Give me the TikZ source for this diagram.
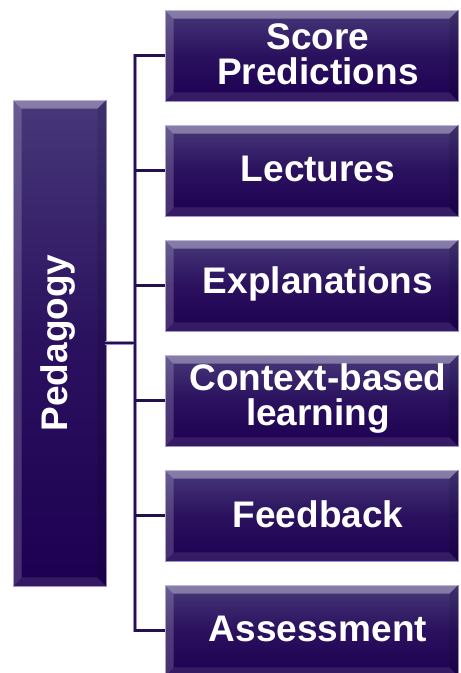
\documentclass[tikz,border=0pt]{standalone}
\usepackage{fontspec}
\setmainfont{Liberation Sans}
\definecolor{boxtop}{HTML}{47387A}
\definecolor{boxbot}{HTML}{1E0052}
\definecolor{linedark}{HTML}{24104F}
\definecolor{linelight}{HTML}{9A8CC8}
\definecolor{edgelight}{HTML}{9C90CC}
\begin{document}
\begin{tikzpicture}[x=1pt,y=-1pt,
  bevbox/.style={rectangle, inner sep=0pt, draw=edgelight, line width=0.6pt,
    top color=boxtop, bottom color=boxbot, middle color=boxbot!70!boxtop},
  boxtext/.style={text=white, font=\bfseries\fontsize{37}{35}\selectfont, align=center, inner sep=0pt},
  conn/.style={line width=3.6pt, draw=linelight},
  conninner/.style={line width=2.2pt, draw=linedark}
]
\useasboundingbox (0,0) rectangle (461,673);
% left box
\node[bevbox, minimum width=93pt, minimum height=486pt] (ped) at (59.5,343) {};
% right boxes
\foreach \i in {0,...,5}{
  \node[bevbox, minimum width=293pt, minimum height=91pt] (b\i) at (311.5,55.5+115*\i) {};
}
% bevel highlights
\foreach \n in {ped,b0,b1,b2,b3,b4,b5}{
  \fill[white, opacity=0.35] (\n.north west) -- (\n.north east) -- ([xshift=-9pt,yshift=-9pt]\n.north east) -- ([xshift=9pt,yshift=-9pt]\n.north west) -- cycle;
  \fill[white, opacity=0.18] (\n.north west) -- ([xshift=9pt,yshift=-9pt]\n.north west) -- ([xshift=9pt,yshift=9pt]\n.south west) -- (\n.south west) -- cycle;
  \fill[black, opacity=0.12] (\n.north east) -- (\n.south east) -- ([xshift=-9pt,yshift=9pt]\n.south east) -- ([xshift=-9pt,yshift=-9pt]\n.north east) -- cycle;
  \fill[white, opacity=0.10] (\n.south west) -- (\n.south east) -- ([xshift=-9pt,yshift=9pt]\n.south east) -- ([xshift=9pt,yshift=9pt]\n.south west) -- cycle;
}
% texts
\node[boxtext, rotate=90] (pedtext) at ([xshift=-1.5pt]ped.center) {Pedagogy};
\foreach \i/\t in {0/{Score\\Predictions},1/{Lectures},2/{Explanations},3/{Context-based\\learning},4/{Feedback},5/{Assessment}}{
  \node[boxtext] (t\i) at ([xshift=6.5pt,yshift=1.5pt]b\i.center) {\t};
}
% connectors
\coordinate (bus) at (135,343);
\foreach \s in {conn,conninner}{
  \draw[\s, line cap=rect] (ped.east) -- (bus);
  \draw[\s, line cap=rect] (bus |- b0.west) -- (bus |- b5.west);
  \foreach \i in {0,...,5}{
    \draw[\s] (bus |- b\i.west) -- (b\i.west);
  }
}
\end{tikzpicture}
\end{document}
